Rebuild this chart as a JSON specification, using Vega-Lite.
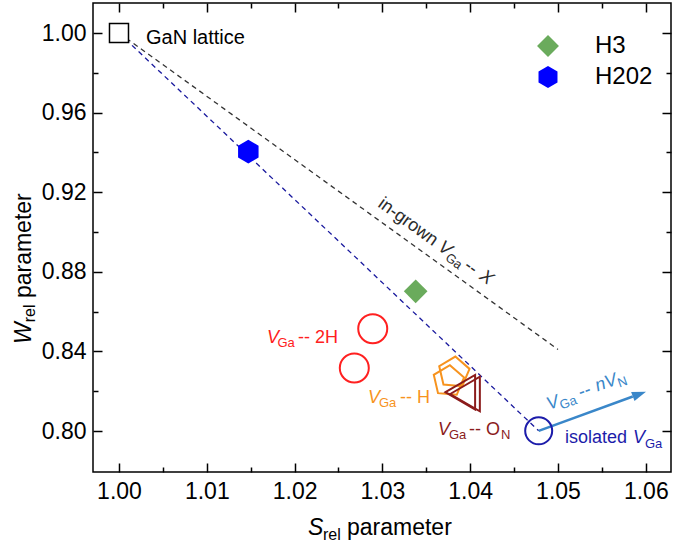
{
  "$schema": "https://vega.github.io/schema/vega-lite/v6.json",
  "width": 578,
  "height": 469,
  "autosize": "none",
  "padding": {"left": 93, "top": 3, "right": 4, "bottom": 76},
  "config": {
    "font": "Liberation Sans",
    "view": {"stroke": "black", "strokeWidth": 1.5},
    "axis": {"labelFont": "Liberation Sans", "labelFontSize": 23, "labelColor": "black", "tickColor": "black", "tickWidth": 1.5, "domain": false, "grid": false}
  },
  "datasets": {
    "lines": [
      {"series": "ingrown", "s": 1.0, "w": 1.0},
      {"series": "ingrown", "s": 1.05, "w": 0.841},
      {"series": "isolated", "s": 1.0, "w": 1.0},
      {"series": "isolated", "s": 1.0478, "w": 0.8001}
    ],
    "arrow": [
      {"s": 1.0478, "w": 0.8001},
      {"s": 1.05852, "w": 0.81734}
    ],
    "arrowhead": [{"s": 1.06002, "w": 0.81975}],
    "lattice": [{"s": 1.0, "w": 1.0}],
    "samples": [
      {"sample": "H3", "s": 1.03379, "w": 0.8702},
      {"sample": "H202", "s": 1.01473, "w": 0.9404}
    ],
    "v2h": [{"s": 1.0289, "w": 0.8514}, {"s": 1.0268, "w": 0.8317}],
    "vh": [{"s": 1.03753, "w": 0.8251}, {"s": 1.03815, "w": 0.8294}],
    "von": [{"s": 1.03887, "w": 0.8195}, {"s": 1.03941, "w": 0.8186}],
    "viso": [{"s": 1.0478, "w": 0.8001}],
    "labels": [
      {"label": "GaN", "kind": "rm", "s": 1.003075, "w": 0.99447, "text": "GaN lattice"},
      {"label": "2H", "kind": "it", "s": 1.016856, "w": 0.84407, "text": "V"},
      {"label": "2H", "kind": "sub", "s": 1.018052, "w": 0.842312, "text": "Ga"},
      {"label": "2H", "kind": "rm", "s": 1.020387, "w": 0.84407, "text": "-- 2H"},
      {"label": "H", "kind": "it", "s": 1.02836, "w": 0.81407, "text": "V"},
      {"label": "H", "kind": "sub", "s": 1.029613, "w": 0.81206, "text": "Ga"},
      {"label": "H", "kind": "rm", "s": 1.032005, "w": 0.81407, "text": "-- H"},
      {"label": "ON", "kind": "it", "s": 1.036333, "w": 0.79799, "text": "V"},
      {"label": "ON", "kind": "sub", "s": 1.037585, "w": 0.79598, "text": "Ga"},
      {"label": "ON", "kind": "rm", "s": 1.039863, "w": 0.79799, "text": "-- O"},
      {"label": "ON", "kind": "sub", "s": 1.043508, "w": 0.79598, "text": "N"},
      {"label": "iso", "kind": "rm", "s": 1.050797, "w": 0.793819, "text": "isolated"},
      {"label": "iso", "kind": "it", "s": 1.058542, "w": 0.793819, "text": "V"},
      {"label": "iso", "kind": "sub", "s": 1.059909, "w": 0.791709, "text": "Ga"},
      {"label": "nVN", "kind": "it", "s": 1.048975, "w": 0.810553, "text": "V"},
      {"label": "nVN", "kind": "sub", "s": 1.05041, "w": 0.810804, "text": "Ga"},
      {"label": "nVN", "kind": "rm", "s": 1.052597, "w": 0.816583, "text": "--"},
      {"label": "nVN", "kind": "it", "s": 1.05451, "w": 0.819799, "text": "nV"},
      {"label": "nVN", "kind": "sub", "s": 1.057016, "w": 0.821809, "text": "N"},
      {"label": "ingrown", "kind": "rm", "s": 1.029385, "w": 0.913065, "text": "in-grown"},
      {"label": "ingrown", "kind": "it", "s": 1.036219, "w": 0.891307, "text": "V"},
      {"label": "ingrown", "kind": "sub", "s": 1.037062, "w": 0.886181, "text": "Ga"},
      {"label": "ingrown", "kind": "rm", "s": 1.03918, "w": 0.88191, "text": "--"},
      {"label": "ingrown", "kind": "it", "s": 1.040934, "w": 0.876734, "text": "X"},
      {"label": "xt", "kind": "it", "s": 1.021526, "w": 0.747739, "text": "S"},
      {"label": "xt", "kind": "sub", "s": 1.023235, "w": 0.745226, "text": "rel"},
      {"label": "xt", "kind": "rm", "s": 1.025968, "w": 0.747739, "text": "parameter"},
      {"label": "yt", "kind": "it", "s": 0.989977, "w": 0.843719, "text": "W"},
      {"label": "yt", "kind": "sub", "s": 0.990433, "w": 0.854623, "text": "rel"},
      {"label": "yt", "kind": "rm", "s": 0.989977, "w": 0.866784, "text": "parameter"}
    ]
  },
  "layer": [
    {
      "data": {"values": [{"s": 1.0, "w": 1.0}]},
      "mark": {"type": "point", "opacity": 0},
      "encoding": {
        "x": {"field": "s", "type": "quantitative", "scale": {"domain": [0.99704, 1.06287], "nice": false, "zero": false},
          "axis": {"orient": "bottom", "title": null,
            "values": [1.0, 1.005, 1.01, 1.015, 1.02, 1.025, 1.03, 1.035, 1.04, 1.045, 1.05, 1.055, 1.06],
            "tickSize": {"condition": {"test": "abs(datum.value*100 - round(datum.value*100)) < 0.01", "value": -9}, "value": -5},
            "labelExpr": "abs(datum.value*100 - round(datum.value*100)) < 0.01 ? format(datum.value, '.2f') : ''",
            "labelPadding": 17, "labelFlush": false, "labelOverlap": false}},
        "y": {"field": "w", "type": "quantitative", "scale": {"domain": [0.7794, 1.01508], "nice": false, "zero": false},
          "axis": {"orient": "left", "title": null,
            "values": [0.8, 0.82, 0.84, 0.86, 0.88, 0.9, 0.92, 0.94, 0.96, 0.98, 1.0],
            "tickSize": {"condition": {"test": "abs(datum.value*25 - round(datum.value*25)) < 0.01", "value": -9}, "value": -5},
            "labelExpr": "abs(datum.value*25 - round(datum.value*25)) < 0.01 ? format(datum.value, '.2f') : ''",
            "labelPadding": 16, "labelFlush": false, "labelOverlap": false}}
      }
    },
    {
      "data": {"values": [{"s": 1.0, "w": 1.0}]},
      "mark": {"type": "point", "opacity": 0},
      "encoding": {
        "x": {"field": "s", "type": "quantitative", "scale": {"domain": [0.99704, 1.06287], "nice": false, "zero": false},
          "axis": {"orient": "top", "title": null, "labels": false,
            "values": [1.0, 1.005, 1.01, 1.015, 1.02, 1.025, 1.03, 1.035, 1.04, 1.045, 1.05, 1.055, 1.06],
            "tickSize": {"condition": {"test": "abs(datum.value*100 - round(datum.value*100)) < 0.01", "value": -9}, "value": -5}}},
        "y": {"field": "w", "type": "quantitative", "scale": {"domain": [0.7794, 1.01508], "nice": false, "zero": false},
          "axis": {"orient": "right", "title": null, "labels": false,
            "values": [0.8, 0.82, 0.84, 0.86, 0.88, 0.9, 0.92, 0.94, 0.96, 0.98, 1.0],
            "tickSize": {"condition": {"test": "abs(datum.value*25 - round(datum.value*25)) < 0.01", "value": -9}, "value": -5}}}
      }
    },
    {
      "data": {"name": "lines"},
      "transform": [{"filter": "datum.series == 'ingrown'"}],
      "mark": {"type": "line", "color": "#333333", "strokeWidth": 1.3, "strokeDash": [5, 4]},
      "encoding": {
        "x": {"field": "s", "type": "quantitative", "axis": null},
        "y": {"field": "w", "type": "quantitative", "axis": null}
      }
    },
    {
      "data": {"name": "lines"},
      "transform": [{"filter": "datum.series == 'isolated'"}],
      "mark": {"type": "line", "color": "#1a1a9e", "strokeWidth": 1.3, "strokeDash": [5, 4]},
      "encoding": {
        "x": {"field": "s", "type": "quantitative", "axis": null},
        "y": {"field": "w", "type": "quantitative", "axis": null}
      }
    },
    {
      "data": {"name": "arrow"},
      "mark": {"type": "line", "color": "#3a87c9", "strokeWidth": 2.5},
      "encoding": {
        "x": {"field": "s", "type": "quantitative", "axis": null},
        "y": {"field": "w", "type": "quantitative", "axis": null}
      }
    },
    {
      "data": {"name": "arrowhead"},
      "mark": {"type": "point", "filled": true, "color": "#3a87c9", "opacity": 1, "shape": "M0,0L-2,-0.7L-2,0.7Z", "size": 196, "angle": -20},
      "encoding": {
        "x": {"field": "s", "type": "quantitative", "axis": null},
        "y": {"field": "w", "type": "quantitative", "axis": null}
      }
    },
    {
      "data": {"name": "lattice"},
      "mark": {"type": "point", "shape": "square", "size": 361, "filled": true, "fill": "white", "stroke": "black", "strokeWidth": 1.5, "opacity": 1},
      "encoding": {
        "x": {"field": "s", "type": "quantitative", "axis": null},
        "y": {"field": "w", "type": "quantitative", "axis": null}
      }
    },
    {
      "data": {"name": "v2h"},
      "mark": {"type": "point", "shape": "circle", "size": 841, "filled": false, "stroke": "#ff2020", "strokeWidth": 2, "opacity": 1},
      "encoding": {
        "x": {"field": "s", "type": "quantitative", "axis": null},
        "y": {"field": "w", "type": "quantitative", "axis": null}
      }
    },
    {
      "data": {"name": "vh"},
      "mark": {"type": "point", "shape": "M0.974,-0.225L0.515,0.857L-0.656,0.755L-0.921,-0.391L0.087,-0.996Z", "size": 1024, "filled": false, "stroke": "#f7931e", "strokeWidth": 2, "opacity": 1},
      "encoding": {
        "x": {"field": "s", "type": "quantitative", "axis": null},
        "y": {"field": "w", "type": "quantitative", "axis": null}
      }
    },
    {
      "data": {"name": "von"},
      "mark": {"type": "point", "shape": "M-0.86,0L0.86,-1L0.86,1Z", "size": 1190, "filled": false, "stroke": "#8b1c1c", "strokeWidth": 2, "opacity": 1},
      "encoding": {
        "x": {"field": "s", "type": "quantitative", "axis": null},
        "y": {"field": "w", "type": "quantitative", "axis": null}
      }
    },
    {
      "data": {"name": "viso"},
      "mark": {"type": "point", "shape": "circle", "size": 729, "filled": false, "stroke": "#1c1caa", "strokeWidth": 2, "opacity": 1},
      "encoding": {
        "x": {"field": "s", "type": "quantitative", "axis": null},
        "y": {"field": "w", "type": "quantitative", "axis": null}
      }
    },
    {
      "data": {"name": "samples"},
      "mark": {"type": "point", "filled": true, "size": 560, "opacity": 1},
      "encoding": {
        "x": {"field": "s", "type": "quantitative", "axis": null},
        "y": {"field": "w", "type": "quantitative", "axis": null},
        "shape": {"field": "sample", "type": "nominal",
          "scale": {"domain": ["H3", "H202"], "range": ["diamond", "M0,-1L0.866,-0.5L0.866,0.5L0,1L-0.866,0.5L-0.866,-0.5Z"]},
          "legend": {"title": null, "orient": "none", "legendX": 443, "legendY": 31, "padding": 0, "labelFontSize": 24, "labelFont": "Liberation Sans", "labelColor": "black", "symbolSize": 480, "symbolStrokeWidth": 0, "labelOffset": 35, "rowPadding": 7}},
        "color": {"field": "sample", "type": "nominal",
          "scale": {"domain": ["H3", "H202"], "range": ["#6aab5c", "#0000ff"]},
          "legend": {"title": null, "orient": "none", "legendX": 443, "legendY": 31, "padding": 0, "labelFontSize": 24, "labelFont": "Liberation Sans", "labelColor": "black", "symbolSize": 480, "symbolStrokeWidth": 0, "labelOffset": 35, "rowPadding": 7}}
      }
    },
    {
      "data": {"name": "labels"},
      "transform": [{"filter": "datum.kind == 'rm'"}],
      "mark": {"type": "text", "align": "left", "baseline": "alphabetic", "font": "Liberation Sans"},
      "encoding": {
        "x": {"field": "s", "type": "quantitative", "axis": null},
        "y": {"field": "w", "type": "quantitative", "axis": null},
        "text": {"field": "text"},
        "color": {"field": "label", "type": "nominal", "legend": null,
          "scale": {"type": "ordinal", "domain": ["GaN", "2H", "H", "ON", "iso", "nVN", "ingrown", "xt", "yt"], "range": ["#000000", "#ff2020", "#f7931e", "#8b1c1c", "#1c1caa", "#3a87c9", "#2b2b2b", "#000000", "#000000"]}},
        "angle": {"field": "label", "type": "nominal", "legend": null,
          "scale": {"type": "ordinal", "domain": ["GaN", "2H", "H", "ON", "iso", "nVN", "ingrown", "xt", "yt"], "range": [0, 0, 0, 0, 0, -20, 35.8, 0, -90]}},
        "size": {"field": "label", "type": "nominal", "legend": null,
          "scale": {"type": "ordinal", "domain": ["GaN", "2H", "H", "ON", "iso", "nVN", "ingrown", "xt", "yt"], "range": [20, 18, 18, 18, 18, 18, 18, 23, 23]}}
      }
    },
    {
      "data": {"name": "labels"},
      "transform": [{"filter": "datum.kind == 'it'"}],
      "mark": {"type": "text", "align": "left", "baseline": "alphabetic", "font": "Liberation Sans", "fontStyle": "italic"},
      "encoding": {
        "x": {"field": "s", "type": "quantitative", "axis": null},
        "y": {"field": "w", "type": "quantitative", "axis": null},
        "text": {"field": "text"},
        "color": {"field": "label", "type": "nominal", "legend": null,
          "scale": {"type": "ordinal", "domain": ["GaN", "2H", "H", "ON", "iso", "nVN", "ingrown", "xt", "yt"], "range": ["#000000", "#ff2020", "#f7931e", "#8b1c1c", "#1c1caa", "#3a87c9", "#2b2b2b", "#000000", "#000000"]}},
        "angle": {"field": "label", "type": "nominal", "legend": null,
          "scale": {"type": "ordinal", "domain": ["GaN", "2H", "H", "ON", "iso", "nVN", "ingrown", "xt", "yt"], "range": [0, 0, 0, 0, 0, -20, 35.8, 0, -90]}},
        "size": {"field": "label", "type": "nominal", "legend": null,
          "scale": {"type": "ordinal", "domain": ["GaN", "2H", "H", "ON", "iso", "nVN", "ingrown", "xt", "yt"], "range": [20, 18, 18, 18, 18, 18, 18, 23, 23]}}
      }
    },
    {
      "data": {"name": "labels"},
      "transform": [{"filter": "datum.kind == 'sub'"}],
      "mark": {"type": "text", "align": "left", "baseline": "alphabetic", "font": "Liberation Sans"},
      "encoding": {
        "x": {"field": "s", "type": "quantitative", "axis": null},
        "y": {"field": "w", "type": "quantitative", "axis": null},
        "text": {"field": "text"},
        "color": {"field": "label", "type": "nominal", "legend": null,
          "scale": {"type": "ordinal", "domain": ["GaN", "2H", "H", "ON", "iso", "nVN", "ingrown", "xt", "yt"], "range": ["#000000", "#ff2020", "#f7931e", "#8b1c1c", "#1c1caa", "#3a87c9", "#2b2b2b", "#000000", "#000000"]}},
        "angle": {"field": "label", "type": "nominal", "legend": null,
          "scale": {"type": "ordinal", "domain": ["GaN", "2H", "H", "ON", "iso", "nVN", "ingrown", "xt", "yt"], "range": [0, 0, 0, 0, 0, -20, 35.8, 0, -90]}},
        "size": {"field": "label", "type": "nominal", "legend": null,
          "scale": {"type": "ordinal", "domain": ["GaN", "2H", "H", "ON", "iso", "nVN", "ingrown", "xt", "yt"], "range": [13, 13, 13, 13, 13, 13, 13, 16, 16]}}
      }
    }
  ],
  "resolve": {
    "axis": {"x": "independent", "y": "independent"},
    "scale": {"color": "independent", "size": "independent", "angle": "independent", "shape": "independent"}
  }
}
